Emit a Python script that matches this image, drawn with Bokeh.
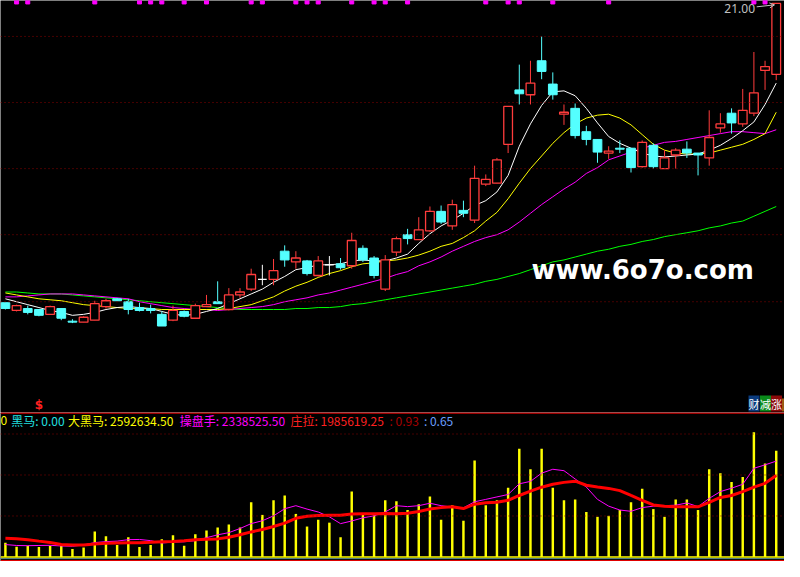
import numpy as np
from bokeh.plotting import figure
from bokeh.layouts import column
from bokeh.models import (ColumnDataSource, Range1d, Span, Label, Arrow,
                          OpenHead, BoxAnnotation)
from bokeh.core.properties import value
from bokeh.embed import file_html
from bokeh.resources import INLINE

# ---- daily bars (price) ----
opens = [17.92, 17.84, 17.86, 17.85, 17.80, 17.86, 17.73, 17.72, 17.74, 17.88,
         17.96, 17.93, 17.87, 17.86, 17.80, 17.74, 17.83, 17.76, 17.88, 17.93,
         17.85, 18.00, 18.06, 18.16, 18.16, 18.45, 18.34, 18.35, 18.20, 18.31,
         18.32, 18.30, 18.48, 18.38, 18.06, 18.44, 18.62, 18.57, 18.66, 18.86,
         18.71, 18.87, 18.77, 19.14, 19.15, 19.55, 20.11, 20.06, 20.41, 20.17,
         19.86, 19.92, 19.68, 19.60, 19.46, 19.51, 19.51, 19.32, 19.54, 19.30,
         19.44, 19.50, 19.46, 19.41, 19.72, 19.87, 19.76, 19.87, 20.31, 20.27]
closes = [17.86, 17.89, 17.82, 17.79, 17.88, 17.76, 17.72, 17.77, 17.91, 17.94,
          17.94, 17.85, 17.84, 17.84, 17.68, 17.84, 17.78, 17.89, 17.90, 17.91,
          18.00, 18.03, 18.21, 18.16, 18.25, 18.36, 18.38, 18.22, 18.35, 18.31,
          18.28, 18.56, 18.36, 18.20, 18.36, 18.58, 18.58, 18.67, 18.86, 18.75,
          18.93, 18.84, 19.20, 19.19, 19.39, 19.94, 20.07, 20.18, 20.30, 20.06,
          19.88, 19.64, 19.60, 19.47, 19.48, 19.50, 19.31, 19.57, 19.32, 19.41,
          19.49, 19.46, 19.44, 19.62, 19.76, 19.77, 19.90, 20.08, 20.35, 21.00]
highs = [17.92, 17.90, 17.89, 17.85, 17.89, 17.86, 17.75, 17.78, 17.94, 17.96,
         17.97, 17.96, 17.92, 17.90, 17.83, 17.89, 17.84, 17.91, 18.00, 18.14,
         18.07, 18.07, 18.27, 18.31, 18.37, 18.51, 18.45, 18.36, 18.40, 18.40,
         18.38, 18.64, 18.51, 18.40, 18.41, 18.60, 18.68, 18.80, 18.91, 18.92,
         18.98, 18.97, 19.33, 19.24, 19.41, 19.94, 20.37, 20.41, 20.66, 20.29,
         19.96, 19.97, 19.74, 19.60, 19.53, 19.59, 19.51, 19.59, 19.56, 19.49,
         19.51, 19.58, 19.46, 19.90, 19.87, 19.92, 20.12, 20.50, 20.41, 21.00]
lows = [17.85, 17.83, 17.80, 17.78, 17.80, 17.74, 17.71, 17.72, 17.74, 17.86,
        17.94, 17.80, 17.83, 17.81, 17.68, 17.73, 17.77, 17.76, 17.88, 17.91,
        17.84, 17.97, 18.04, 18.10, 18.10, 18.29, 18.27, 18.20, 18.19, 18.20,
        18.26, 18.27, 18.34, 18.17, 18.04, 18.40, 18.52, 18.57, 18.65, 18.73,
        18.67, 18.80, 18.74, 19.12, 19.15, 19.46, 19.96, 19.96, 20.22, 20.01,
        19.75, 19.61, 19.54, 19.36, 19.40, 19.46, 19.26, 19.31, 19.30, 19.30,
        19.30, 19.41, 19.23, 19.33, 19.67, 19.66, 19.73, 19.84, 20.11, 20.21]

# moving averages as drawn on the chart
ma5 = [17.96, 17.93, 17.90, 17.87, 17.84, 17.82, 17.79, 17.80, 17.82, 17.85,
       17.87, 17.88, 17.87, 17.86, 17.83, 17.80, 17.79, 17.80, 17.83, 17.86,
       17.91, 17.96, 18.01, 18.06, 18.13, 18.19, 18.26, 18.28, 18.31, 18.31,
       18.32, 18.35, 18.36, 18.35, 18.35, 18.38, 18.42, 18.53, 18.63, 18.71,
       18.77, 18.84, 18.92, 18.97, 19.06, 19.23, 19.53, 19.76, 19.95, 20.09,
       20.10, 20.05, 19.92, 19.77, 19.63, 19.56, 19.51, 19.46, 19.43, 19.42,
       19.43, 19.44, 19.45, 19.49, 19.54, 19.61, 19.69, 19.78, 19.96, 20.18]
ma10 = [18.02, 18.00, 17.98, 17.96, 17.95, 17.94, 17.92, 17.90, 17.89, 17.88,
        17.87, 17.86, 17.86, 17.86, 17.85, 17.85, 17.85, 17.85, 17.85, 17.85,
        17.86, 17.88, 17.90, 17.94, 17.98, 18.04, 18.09, 18.13, 18.18, 18.22,
        18.25, 18.29, 18.32, 18.33, 18.35, 18.36, 18.38, 18.41, 18.45, 18.50,
        18.53, 18.59, 18.66, 18.76, 18.85, 18.99, 19.15, 19.30, 19.43, 19.56,
        19.67, 19.76, 19.82, 19.85, 19.86, 19.82, 19.75, 19.65, 19.55, 19.49,
        19.46, 19.45, 19.45, 19.46, 19.49, 19.52, 19.55, 19.60, 19.66, 19.88]
ma20 = [17.98, 17.98, 17.99, 18.00, 18.01, 18.01, 18.01, 18.00, 17.99, 17.98,
        17.97, 17.96, 17.93, 17.91, 17.89, 17.87, 17.86, 17.85, 17.85, 17.84,
        17.85, 17.86, 17.87, 17.88, 17.90, 17.93, 17.95, 17.97, 18.00, 18.02,
        18.05, 18.08, 18.11, 18.14, 18.17, 18.21, 18.24, 18.30, 18.34, 18.39,
        18.45, 18.50, 18.55, 18.59, 18.62, 18.67, 18.75, 18.84, 18.93, 19.01,
        19.09, 19.16, 19.25, 19.31, 19.39, 19.43, 19.47, 19.51, 19.54, 19.57,
        19.58, 19.60, 19.62, 19.64, 19.66, 19.68, 19.68, 19.67, 19.66, 19.70]
ma60 = [18.03, 18.03, 18.02, 18.01, 18.01, 18.01, 18.00, 17.99, 17.98, 17.97,
        17.96, 17.95, 17.94, 17.93, 17.92, 17.91, 17.90, 17.89, 17.88, 17.87,
        17.86, 17.85, 17.85, 17.85, 17.85, 17.85, 17.86, 17.86, 17.87, 17.87,
        17.88, 17.90, 17.91, 17.93, 17.95, 17.97, 17.99, 18.01, 18.03, 18.05,
        18.07, 18.09, 18.11, 18.14, 18.16, 18.19, 18.22, 18.26, 18.30, 18.34,
        18.36, 18.39, 18.42, 18.45, 18.47, 18.50, 18.52, 18.55, 18.57, 18.60,
        18.62, 18.64, 18.66, 18.69, 18.71, 18.74, 18.76, 18.81, 18.86, 18.91]

# ---- volume panel (万股) ----
vols = [34.6, 25.1, 27.5, 24.4, 27.5, 27.5, 19.7, 22.8, 62.3, 50.5,
        29.2, 48.1, 24.4, 29.2, 43.4, 52.9, 27.5, 55.2, 64.7, 71.8,
        78.9, 71.8, 133.4, 102.6, 138.2, 150.0, 105.0, 74.2, 90.8, 83.7,
        48.1, 159.5, 102.6, 102.6, 138.2, 135.8, 114.5, 128.7, 147.7, 90.8,
        126.3, 88.4, 235.3, 126.3, 138.2, 169.0, 263.8, 214.0, 263.8, 169.0,
        138.2, 140.5, 109.7, 97.9, 100.3, 114.5, 133.4, 166.6, 116.8, 97.9,
        140.5, 140.5, 114.5, 214.0, 204.5, 183.2, 195.1, 304.1, 228.2, 259.26345]
vol_ma5 = [30.3, 28.0, 27.5, 28.0, 28.4, 26.8, 26.1, 29.2, 35.1, 37.4,
           38.6, 42.2, 42.7, 39.8, 33.9, 36.3, 37.0, 39.8, 46.9, 54.0,
           59.3, 69.4, 81.3, 88.4, 100.3, 117.6, 125.1, 116.8, 109.7, 97.9,
           81.3, 87.7, 95.5, 100.3, 109.7, 125.1, 122.8, 125.1, 131.1, 125.1,
           121.6, 119.9, 134.6, 140.5, 146.5, 152.4, 178.5, 184.4, 204.5, 214.0,
           210.5, 190.3, 170.6, 140.5, 124.0, 114.5, 111.4, 120.4, 124.0, 125.1,
           126.3, 131.8, 122.8, 142.9, 159.5, 167.8, 177.3, 216.4, 224.7, 233.85255]
vol_ma10 = [45.7, 44.6, 42.2, 38.6, 35.1, 30.3, 29.2, 29.2, 31.5, 33.2,
            33.9, 34.6, 34.6, 35.6, 37.0, 37.9, 39.3, 42.2, 43.4, 44.1,
            48.1, 54.0, 61.1, 67.1, 74.2, 82.5, 94.3, 99.1, 101.4, 101.9,
            101.9, 105.0, 105.7, 105.7, 106.2, 105.7, 106.7, 110.9, 116.8, 120.4,
            122.3, 118.0, 128.7, 132.2, 133.4, 138.2, 150.0, 160.7, 170.2, 177.3,
            182.0, 184.9, 174.9, 170.6, 167.3, 161.9, 150.0, 138.2, 127.0, 124.0,
            122.3, 122.3, 122.3, 133.4, 145.3, 150.0, 159.5, 170.2, 179.6, 198.561925]

signal_bars = [1, 2, 8, 12, 13, 14, 16, 18, 22, 23, 26, 27, 28, 31, 33, 34,
               36, 43, 45, 46, 49, 54, 67, 68]
dollar_bars = [3]
price_grid = [20.66, 19.98, 19.30, 18.62, 17.93]
vol_grid = [100, 200, 300]
other_values = ['0', '黑马: 0.00', ': 0.93', ': 0.65']
buttons = ['财', '减', '涨']

RED = '#ff3c3c'
CYAN = '#54ffff'
BG = 'black'
W = 784
H_PRICE, H_VOL = 412, 149
x_range = Range1d(-0.44, 69.74)


def _panel(height, y_range):
    p = figure(width=W, height=height, x_range=x_range, y_range=y_range,
               x_axis_type=None, y_axis_type=None, toolbar_location=None,
               output_backend='svg', min_border=0,
               background_fill_color=BG, border_fill_color=BG,
               outline_line_color=None)
    p.grid.visible = False
    return p


idx = np.arange(len(closes))
o, c = np.array(opens), np.array(closes)
hi, lo = np.array(highs), np.array(lows)
up, dn, flat = c > o, c < o, c == o
wick_color = np.where(up, RED, np.where(dn, CYAN, 'white'))

# ---------------- price panel ----------------
p = _panel(H_PRICE, Range1d(16.79, 21.03))
for g in price_grid:
    p.add_layout(Span(location=g, dimension='width', line_color='#8a0000',
                      line_dash='1 3', line_width=1))

p.line(idx, ma60, line_color='#00ff00', line_width=1)
p.line(idx, ma20, line_color='#ff00ff', line_width=1)
p.line(idx, ma10, line_color='#ffff00', line_width=1)
p.line(idx, ma5, line_color='white', line_width=1)

p.segment(x0=idx, y0=hi, x1=idx, y1=lo, line_color=list(wick_color), line_width=1)
p.vbar(x=idx[up], top=c[up], bottom=o[up], width=0.78,
       fill_color=BG, line_color=RED, line_width=1.3)
p.vbar(x=idx[dn], top=o[dn], bottom=c[dn], width=0.78,
       fill_color=CYAN, line_color=CYAN, line_width=1)
p.segment(x0=idx[flat] - 0.39, y0=c[flat], x1=idx[flat] + 0.39, y1=c[flat],
          line_color='white', line_width=1.3)

# signal marks along the top edge
p.scatter(signal_bars, [21.015] * len(signal_bars), marker='square', size=4,
          fill_color='#ff00ff', line_color='#ff00ff')
p.text(dollar_bars, [16.80] * len(dollar_bars), text=['$'] * len(dollar_bars),
       text_color='#ff2020', text_font=value('DejaVu Sans'),
       text_font_size='12px', text_font_style='bold', text_align='center',
       text_baseline='bottom')

# highest price marker
top_i = int(np.argmax(hi))
p.add_layout(Label(x=top_i - 1.9, y=hi[top_i] - 0.05, text=f'{hi[top_i]:.2f}',
                   text_color='#c0c0c0', text_font='Noto Sans',
                   text_font_size='12px', text_align='right',
                   text_baseline='middle'))
p.add_layout(Arrow(x_start=top_i - 1.75, y_start=hi[top_i] - 0.035,
                   x_end=top_i - 0.15, y_end=hi[top_i] - 0.015,
                   line_color='#c0c0c0', line_width=1,
                   end=OpenHead(size=5, line_color='#c0c0c0', line_width=1)))

p.add_layout(Label(x=531, y=143, x_units='screen', y_units='screen',
                   text='www.6o7o.com', text_color='white',
                   text_font='DejaVu Sans', text_font_size='26px',
                   text_font_style='bold', text_baseline='alphabetic'))

for bx, txt, bg in zip([748, 759.5, 770.5], buttons,
                       ['#0b3b7d', '#0a8a1a', '#8b0a0a']):
    p.add_layout(Label(x=bx, y=1, x_units='screen', y_units='screen',
                       text=txt, text_color='white',
                       text_font='Noto Sans CJK SC', text_font_size='11px',
                       background_fill_color=bg, padding=0,
                       text_baseline='bottom'))
# the next button is cut off by the right edge; only its colour shows
p.add_layout(BoxAnnotation(left=781.5, right=784, bottom=1, top=14,
                           left_units='screen', right_units='screen',
                           bottom_units='screen', top_units='screen',
                           fill_color='#9a5a10', fill_alpha=1, line_color=None))

# ---------------- volume panel ----------------
v = _panel(H_VOL, Range1d(-11.1, 352.5))
for g in vol_grid:
    v.add_layout(Span(location=g, dimension='width', line_color='#8a0000',
                      line_dash='1 3', line_width=1))
v.vbar(x=idx, top=vols, bottom=0, width=0.22, fill_color='#ffff00',
       line_color=None)
v.line(idx, vol_ma5, line_color='#ff00ff', line_width=1)
v.line(idx, vol_ma10, line_color='#ff0000', line_width=3)

v.add_layout(Span(location=351.3, dimension='width', line_color='#d00000', line_width=1.5))
v.add_layout(Span(location=0, dimension='width', line_color='#ffff00', line_width=1.5))
v.add_layout(Span(location=-4, dimension='width', line_color='#5f8f8f', line_width=1))
v.add_layout(Span(location=-10, dimension='width', line_color='#e00000', line_width=2))

legend = [
    (0, other_values[0], '#ffff00'),
    (10.8, other_values[1], '#20e0e0'),
    (67.6, f'大黑马: {vols[-1] * 1e4:.2f}', '#ffff00'),
    (179.3, f'操盘手: {vol_ma5[-1] * 1e4:.2f}', '#ff00ff'),
    (290, f'庄拉: {vol_ma10[-1] * 1e4:.2f}', '#ff2020'),
    (389, other_values[2], '#a80000'),
    (423.4, other_values[3], '#6a9eff'),
]
for lx, txt, col in legend:
    v.add_layout(Label(x=lx, y=140.7, x_units='screen', y_units='screen',
                       text=txt, text_color=col, text_font='Noto Sans CJK SC',
                       text_font_size='12px', text_baseline='middle'))

page = column(p, v, spacing=0)
open("out.html", "w").write(file_html(page, INLINE))
